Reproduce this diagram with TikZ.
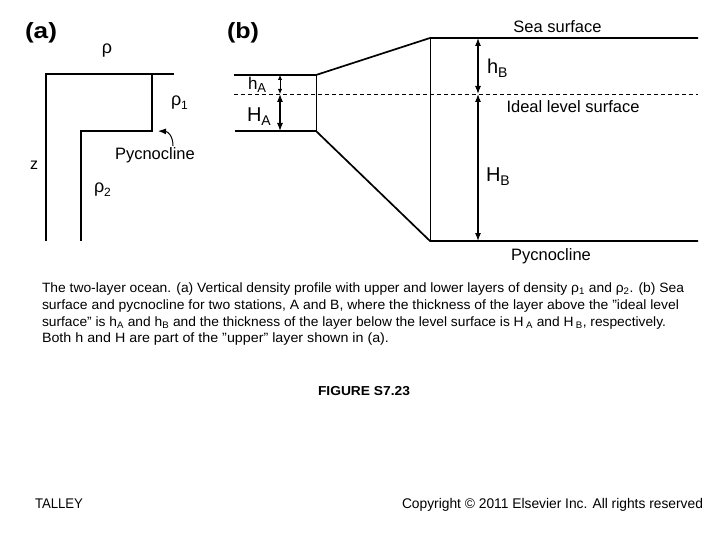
\documentclass[tikz,border=0pt]{standalone}
\usepackage{fontspec}
\setmainfont{Liberation Sans}
\usetikzlibrary{arrows.meta}
\newcommand{\fitto}[2]{\resizebox{#1}{\height}{#2}}
\newcommand{\lowsub}[3]{\raisebox{-#1}{\fontsize{#2}{#2}\selectfont #3}}
\begin{document}
\begin{tikzpicture}[x=1pt,y=-1pt,
  every node/.style={inner sep=0pt, outer sep=0pt},
  surf/.style={line width=1.7pt},
  thinv/.style={line width=0.9pt},
  prof/.style={line width=1.2pt},
  dimarrow/.style={line width=1.1pt, {Latex[length=8pt,width=6pt]}-{Latex[length=8pt,width=6pt]}},
  smalldim/.style={line width=0.9pt, {Latex[length=5pt,width=4.5pt]}-{Latex[length=5pt,width=4.5pt]}},
  lab/.style={font=\fontsize{16.5}{18}\selectfont, anchor=base},
  hlab/.style={font=\fontsize{20}{22}\selectfont, anchor=base west},
  captext/.style={font=\fontsize{13.5}{15}\selectfont, anchor=base west},
  panel/.style={font=\fontsize{22}{24}\selectfont\bfseries, anchor=base west},
]
\useasboundingbox[fill=white] (0,0) rectangle (720,540);

% ---------- panel (a) ----------
\node[panel] (pa) at (25,39) {\fitto{32pt}{(a)}};
\coordinate (t0) at (46,74);
\coordinate (t1) at (174,74);
\coordinate (s0) at (152,74);
\coordinate (s1) at (152,131);
\coordinate (s2) at (81,131);
\coordinate (s3) at (81,241);
\coordinate (b0) at (46,241);
\draw[prof] (t1) -- (t0) -- (b0);
\draw[prof] (s0) -- (s1) -- (s2) -- (s3);

\node[font=\fontsize{18}{20}\selectfont, anchor=base] (rho) at (107,53.5) {ρ};
\node[font=\fontsize{18}{20}\selectfont, anchor=base west] (rho1) at (171,106) {ρ\lowsub{4pt}{12}{1}};
\node[font=\fontsize{18}{20}\selectfont, anchor=base west] (rho2) at (94,193) {ρ\lowsub{4pt}{12}{2}};
\node[font=\fontsize{16}{18}\selectfont, anchor=base west] (zlab) at (30,169.3) {z};
\node[font=\fontsize{16.5}{18}\selectfont, anchor=base west] (pyca) at (115,160) {Pycnocline};
\coordinate (arrS) at (173,146);
\coordinate (arrE) at (158,131);
\draw[line width=1pt, -{Latex[length=8pt,width=6pt]}] (arrS) .. controls (173,136) and (168,131.5) .. (arrE);

% ---------- panel (b) ----------
\node[panel] (pb) at (227,39) {\fitto{32pt}{(b)}};
\coordinate (atl) at (234,75);
\coordinate (atr) at (316,75);
\coordinate (btl) at (430,38);
\coordinate (btr) at (698,38);
\coordinate (abl) at (235,131);
\coordinate (abr) at (316,131);
\coordinate (bbl) at (430,241);
\coordinate (bbr) at (698,241);
\coordinate (dl) at (234,94);
\coordinate (dr) at (698,94);
\draw[surf] (atl) -- (atr) -- (btl) -- (btr);
\draw[surf] (abl) -- (abr) -- (bbl) -- (bbr);
\draw[thinv] (atr) -- (abr);
\draw[thinv] (btl) -- (bbl);
\draw[line width=0.9pt, dash pattern=on 4pt off 3pt] (dl) -- (dr);

\coordinate (ha0) at (280,75);
\coordinate (ha1) at (280,94);
\coordinate (ha2) at (280,131);
\coordinate (hb0) at (478,38);
\coordinate (hb1) at (478,94);
\coordinate (hb2) at (478,241);
\draw[smalldim] (ha0) -- (ha1);
\draw[dimarrow] (ha1) -- (ha2);
\draw[dimarrow] (hb0) -- (hb1);
\draw[dimarrow] (hb1) -- (hb2);

\node[font=\fontsize{17}{19}\selectfont, anchor=base west] (hA) at (248,90) {h\lowsub{3pt}{13}{A}};
\node[hlab] (HA) at (247,121.7) {H\lowsub{4pt}{14}{A}};
\node[hlab] (hB) at (487,73.3) {h\lowsub{4pt}{14}{B}};
\node[hlab] (HB) at (486,181.7) {H\lowsub{4pt}{14}{B}};

\node[lab] (sea) at (557.5,33) {Sea surface};
\node[lab] (ideal) at (573,112.7) {Ideal level surface};
\node[lab] (pycb) at (551,260) {Pycnocline};

% ---------- caption ----------
\node[captext] (c1) at (42,292.7) {\fitto{642pt}{The two-layer ocean. (a) Vertical density profile with upper and lower layers of density ρ\textsubscript{1} and ρ\textsubscript{2}. (b) Sea}};
\node[captext] (c2) at (42,309.3) {\fitto{637pt}{surface and pycnocline for two stations, A and B, where the thickness of the layer above the "ideal level}};
\node[captext] (c3) at (42,326) {\fitto{624pt}{surface" is h\textsubscript{A} and h\textsubscript{B} and the thickness of the layer below the level surface is H\,\textsubscript{A} and H\,\textsubscript{B}, respectively.}};
\node[captext] (c4) at (42,342.7) {\fitto{347pt}{Both h and H are part of the "upper" layer shown in (a).}};

\node[font=\fontsize{13}{15}\selectfont\bfseries, anchor=base] (fig) at (364,395) {\fitto{92pt}{FIGURE S7.23}};
\node[font=\fontsize{14}{15}\selectfont, anchor=base west] (tal) at (35,508.5) {\fitto{48pt}{TALLEY}};
\node[font=\fontsize{14}{15}\selectfont, anchor=base west] (copy) at (402,508.5) {\fitto{301pt}{Copyright © 2011 Elsevier Inc. All rights reserved}};
\end{tikzpicture}
\end{document}
